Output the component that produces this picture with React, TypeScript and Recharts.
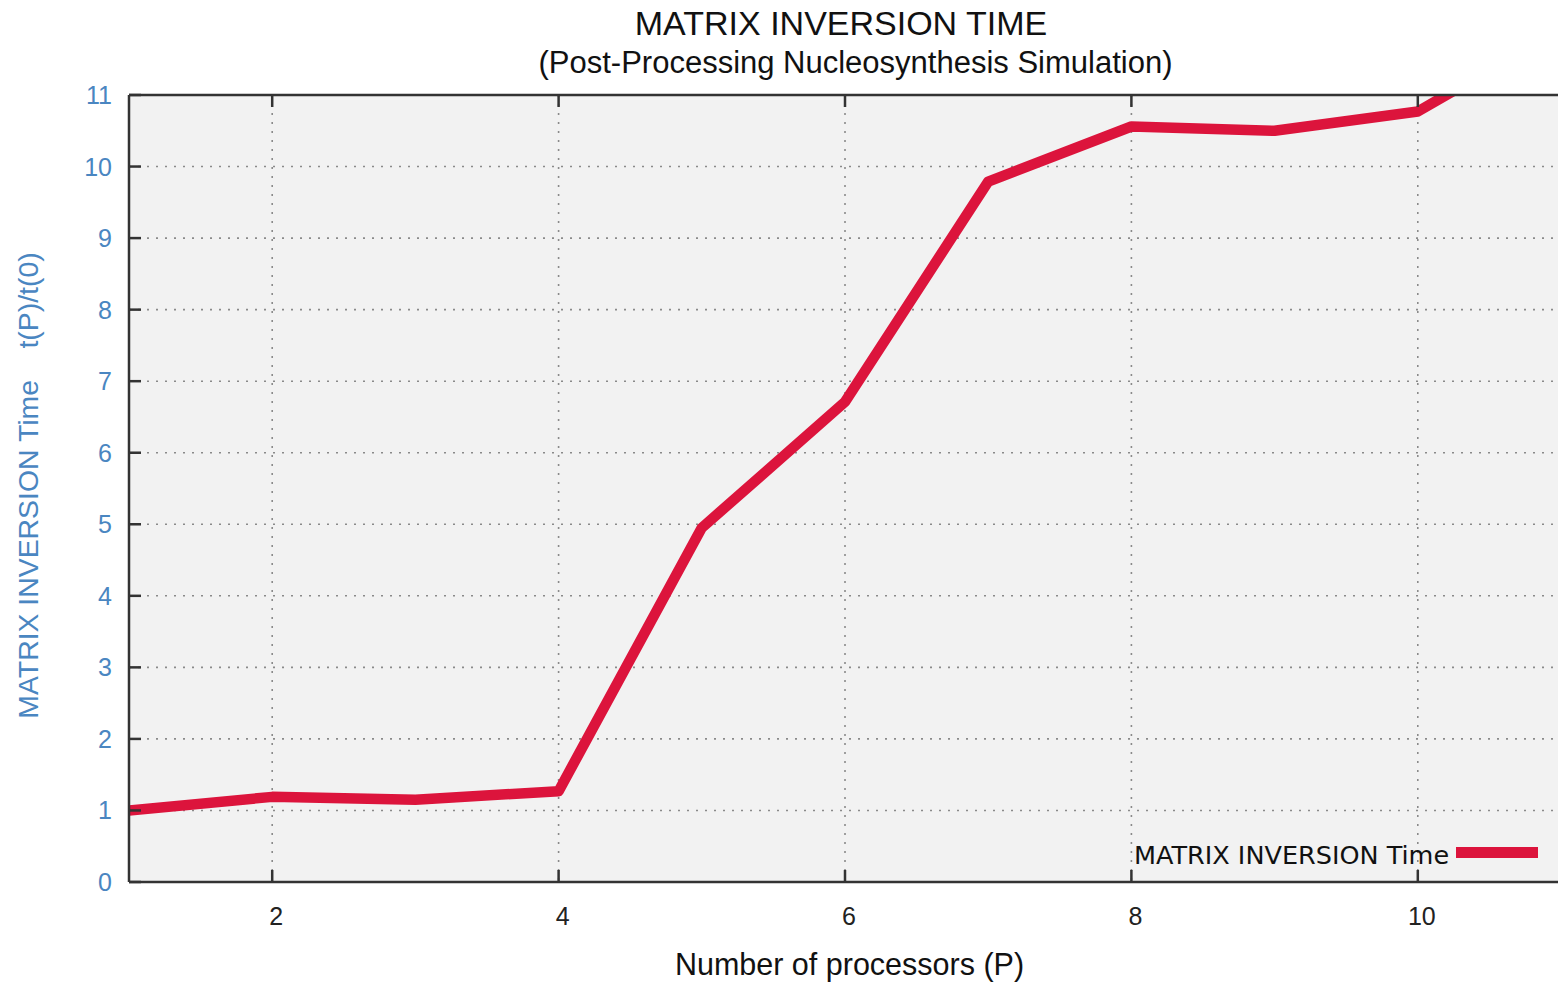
import React from "react";
import { LineChart, Line, XAxis, YAxis, CartesianGrid, Legend } from "recharts";

const processors = [1, 2, 3, 4, 5, 6, 7, 8, 9, 10, 11];
const timeRatio = [1.0, 1.19, 1.15, 1.27, 4.95, 6.71, 9.79, 10.56, 10.5, 10.77, 11.92];
const xTicks = [2, 4, 6, 8, 10];
const yTicks = [0, 1, 2, 3, 4, 5, 6, 7, 8, 9, 10, 11];

const title = "MATRIX INVERSION TIME";
const subtitle = "(Post-Processing Nucleosynthesis Simulation)";
const xLabel = "Number of processors (P)";
const yLabel = "MATRIX INVERSION Time    t(P)/t(0)";
const seriesName = "MATRIX INVERSION Time";

const data = processors.map((p, i) => ({ p, t: timeRatio[i] }));

const BLUE = "#4A86C1";
const RED = "#DC143C";
const AXIS = "#333";

const BottomTick = (props: any) => {
  const { x, y, payload } = props;
  return (
    <g>
      <line x1={x} y1={y} x2={x} y2={y - 12} stroke={AXIS} strokeWidth={2.5} />
      <text x={x + 4} y={y + 43} textAnchor="middle" fontFamily="Liberation Sans" fontSize={25} fill="#222">
        {payload.value}
      </text>
    </g>
  );
};

const TopTick = (props: any) => {
  const { x, y } = props;
  return <line x1={x} y1={y} x2={x} y2={y + 12} stroke={AXIS} strokeWidth={2.5} />;
};

const LeftTick = (props: any) => {
  const { x, y, payload } = props;
  return (
    <g>
      <line x1={x} y1={y} x2={x + 12} y2={y} stroke={AXIS} strokeWidth={2.5} />
      <text x={x - 17} y={y + 9} textAnchor="end" fontFamily="Liberation Sans" fontSize={25} fill={BLUE}>
        {payload.value}
      </text>
    </g>
  );
};

const YLabel = (props: any) => {
  const { viewBox } = props;
  const cy = viewBox.y + viewBox.height / 2 - 3;
  const cx = 28;
  return (
    <text
      x={cx}
      y={cy}
      transform={`rotate(-90 ${cx} ${cy})`}
      textAnchor="middle"
      dominantBaseline="central"
      fontFamily="Liberation Sans"
      fontSize={28.4}
      fill={BLUE}
      style={{ whiteSpace: "pre" }}
    >
      {yLabel}
    </text>
  );
};

const LegendContent = () => (
  <div style={{ display: "flex", alignItems: "center", whiteSpace: "nowrap" }}>
    <span style={{ fontFamily: "DejaVu Sans", fontSize: 25.5, color: "#111", lineHeight: "30px" }}>{seriesName}</span>
    <span
      style={{
        display: "inline-block",
        width: 82,
        height: 11,
        background: RED,
        marginLeft: 7,
        position: "relative",
        top: -3,
      }}
    />
  </div>
);

export default function App() {
  return (
    <div style={{ position: "absolute", left: 0, top: 0, width: 1558, height: 982, overflow: "hidden", background: "#fff" }}>
      <div style={{ position: "absolute", left: 129, top: 95, width: 1440, height: 787, background: "#f2f2f2" }} />
      <div
        style={{
          position: "absolute",
          left: 0,
          width: 1682,
          top: 3,
          textAlign: "center",
          fontFamily: "Liberation Sans",
          fontSize: 34,
          color: "#111",
          lineHeight: "40px",
        }}
      >
        {title}
      </div>
      <div
        style={{
          position: "absolute",
          left: 0,
          width: 1711,
          top: 46,
          textAlign: "center",
          fontFamily: "Liberation Sans",
          fontSize: 31,
          color: "#111",
          lineHeight: "34px",
        }}
      >
        {subtitle}
      </div>
      <div
        style={{
          position: "absolute",
          left: 0,
          width: 1699,
          top: 947,
          textAlign: "center",
          fontFamily: "Liberation Sans",
          fontSize: 30.5,
          color: "#111",
          lineHeight: "34px",
        }}
      >
        {xLabel}
      </div>
      <LineChart
        width={1561}
        height={982}
        data={data}
        margin={{ top: 94, right: 0, bottom: 0, left: 0 }}
        style={{ position: "absolute", left: 0, top: 0 }}
      >
        <CartesianGrid stroke="#8a8a8a" strokeWidth={1.6} strokeDasharray="2 7" />
        <XAxis
          dataKey="p"
          type="number"
          domain={[1, 11]}
          ticks={xTicks}
          allowDataOverflow
          height={100}
          tickSize={0}
          tickMargin={0}
          tick={<BottomTick />}
          axisLine={{ stroke: AXIS, strokeWidth: 2.5 }}
          interval={0}
        />
        <XAxis
          xAxisId="top"
          orientation="top"
          dataKey="p"
          type="number"
          domain={[1, 11]}
          ticks={xTicks}
          allowDataOverflow
          height={1}
          tickSize={0}
          tickMargin={0}
          tick={<TopTick />}
          axisLine={{ stroke: AXIS, strokeWidth: 2.5 }}
          interval={0}
        />
        <YAxis
          type="number"
          domain={[0, 11]}
          ticks={yTicks}
          allowDataOverflow
          width={129}
          tickSize={0}
          tickMargin={0}
          tick={<LeftTick />}
          axisLine={{ stroke: AXIS, strokeWidth: 2.5 }}
          interval={0}
          label={<YLabel />}
        />
        <Legend
          layout="horizontal"
          verticalAlign="middle"
          align="center"
          content={<LegendContent />}
          wrapperStyle={{ left: 1134, top: 840, width: 420, height: 30 }}
        />
        <Line
          type="linear"
          dataKey="t"
          name={seriesName}
          stroke={RED}
          strokeWidth={10.5}
          dot={false}
          activeDot={false}
          strokeLinejoin="round"
          isAnimationActive={false}
        />
      </LineChart>
    </div>
  );
}
